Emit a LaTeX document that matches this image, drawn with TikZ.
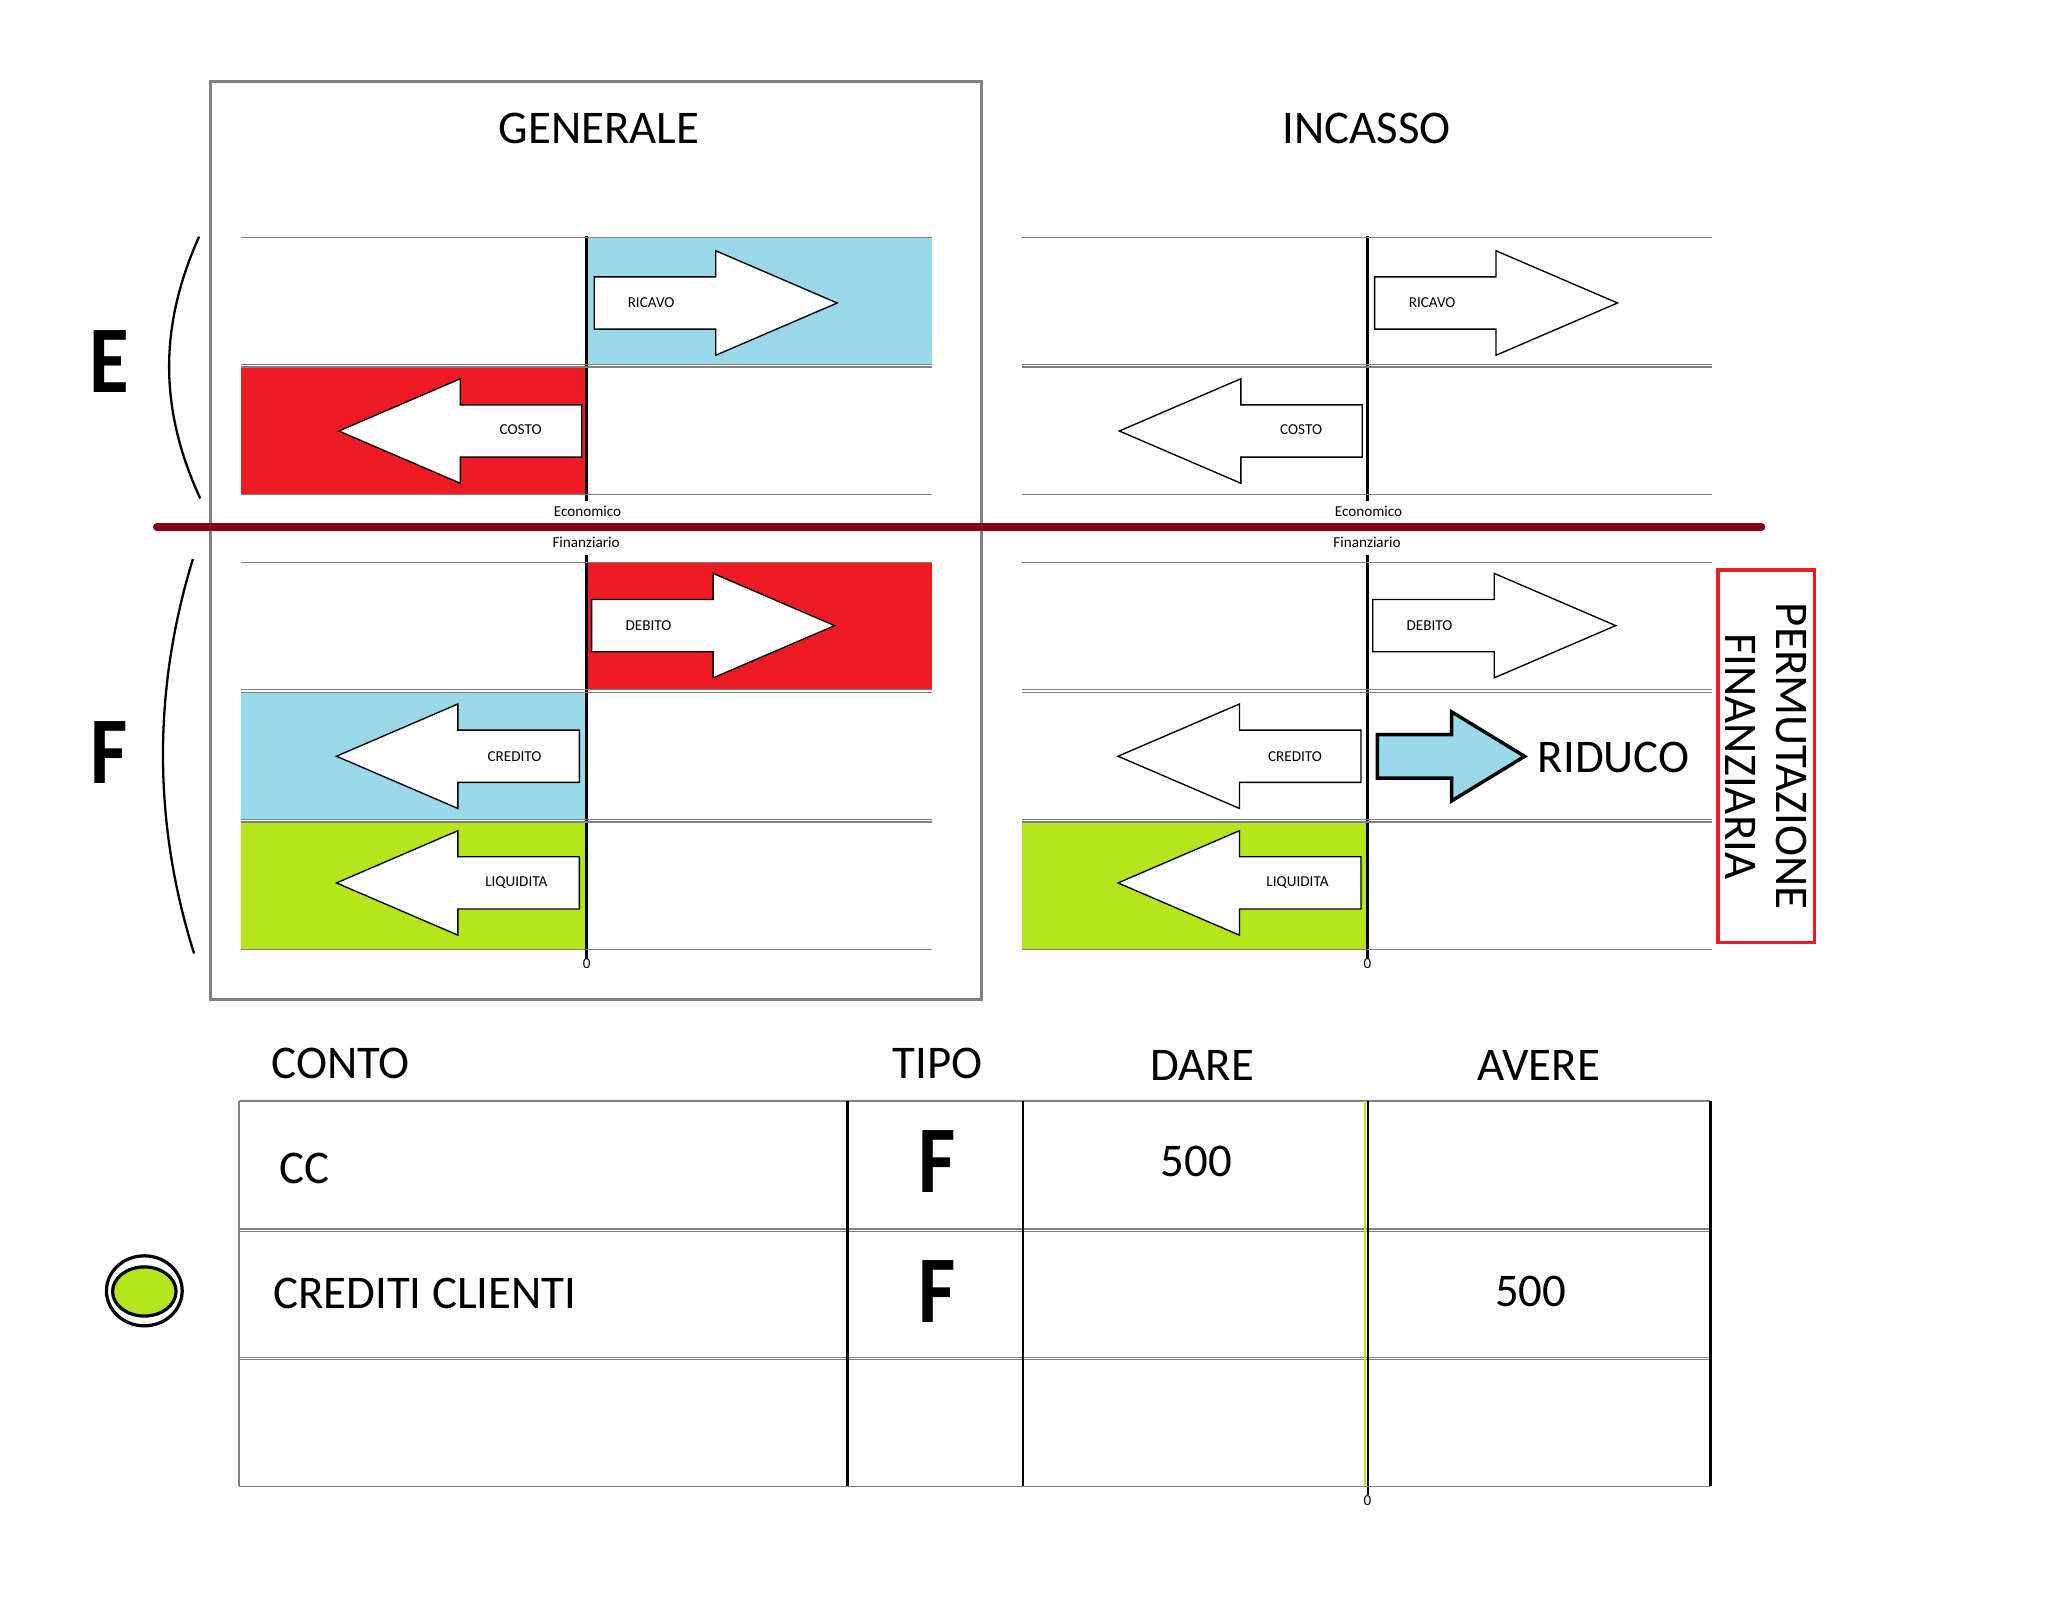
\documentclass[tikz,border=0pt]{standalone}
\usepackage{fontspec}
\setmainfont{Carlito}
\usepackage{tikz}
\definecolor{celeste}{RGB}{153,217,234}
\definecolor{rosso}{RGB}{237,28,36}
\definecolor{verde}{RGB}{181,230,29}
\definecolor{bordeaux}{RGB}{136,0,21}
\definecolor{griglia}{RGB}{128,128,128}
\tikzstyle{every node}=[inner sep=0pt]
\tikzstyle{riga}=[draw=griglia, line width=0.25pt]
\tikzstyle{asse}=[line width=0.55pt]
\tikzstyle{colonna}=[line width=0.6pt]
\tikzstyle{freccia}=[draw=black, line width=0.3pt, fill=white]
\tikzstyle{titolo}=[font=\fontsize{10.2}{11}\selectfont]
\tikzstyle{etichetta}=[font=\fontsize{3.3}{4}\selectfont]
\tikzstyle{lettera}=[font=\fontsize{20.8}{22}\selectfont\bfseries]
\newcommand{\bloccodx}[2]{\draw[freccia] (#1,#2-20) -- ++(93,0) -- ++(0,-20) -- ++(93,40) -- ++(-93,40) -- ++(0,-20) -- ++(-93,0) -- cycle;}
\newcommand{\bloccosx}[2]{\draw[freccia] (#1,#2-20) -- ++(-93,0) -- ++(0,-20) -- ++(-93,40) -- ++(93,40) -- ++(0,-20) -- ++(93,0) -- cycle;}
\newcommand{\stretta}[1]{\scalebox{0.85}[1]{#1}}

\begin{document}
\begin{tikzpicture}[x=0.01cm, y=-0.01cm]
            \useasboundingbox (0,0) rectangle (1568,1225);

            \draw[griglia, line width=0.65pt] (160.8,62.5) rectangle (751.6,765);
            \node[titolo] (titoloG) at (458.6,98) {GENERALE};
            \node[titolo] (titoloI) at (1046.4,98) {INCASSO};

            \fill[celeste] (449,181.7) rectangle (713.2,279);
            \fill[rosso] (184.7,281) rectangle (449,378.5);
            \fill[rosso] (449,430.6) rectangle (713.2,527.8);
            \fill[celeste] (184.7,529.9) rectangle (449,627.4);
            \fill[verde] (184.7,629.4) rectangle (449,726.9);
            \fill[verde] (782.5,629.4) rectangle (1047,726.9);

            \draw[asse] (449.2,180.7) -- (449.2,383.4);
            \draw[asse] (449.2,425) -- (449.2,734);
            \draw[asse] (1047,180.7) -- (1047,383.4);
            \draw[asse] (1047,425) -- (1047,734);

            \foreach \y in {181.7,279,281,378.5,430.6,527.8,529.9,627.4,629.4,726.9} {
                \draw[riga] (184.7,\y) -- (713.2,\y);
                \draw[riga] (782.5,\y) -- (1311,\y);
            }

            \bloccodx{455}{232}
            \bloccosx{445.4}{330}
            \bloccodx{453}{479}
            \bloccosx{443.6}{579}
            \bloccosx{443.6}{676}
            \bloccodx{1052.4}{232}
            \bloccosx{1043}{330}
            \bloccodx{1051}{479}
            \bloccosx{1042}{579}
            \bloccosx{1042}{676}

            \node[etichetta] (ricavoG) at (498.5,232) {RICAVO};
            \node[etichetta] (costoG) at (398.6,329) {COSTO};
            \node[etichetta] (debitoG) at (496.5,479) {DEBITO};
            \node[etichetta] (creditoG) at (393.9,579) {CREDITO};
            \node[etichetta] (liquiditaG) at (395.3,676) {LIQUIDITA};
            \node[etichetta] (ricavoI) at (1096.5,232) {RICAVO};
            \node[etichetta] (costoI) at (996.2,329) {COSTO};
            \node[etichetta] (debitoI) at (1094.5,479) {DEBITO};
            \node[etichetta] (creditoI) at (991.5,579) {CREDITO};
            \node[etichetta] (liquiditaI) at (993.4,676) {LIQUIDITA};

            \node[etichetta] (ecoG) at (449.8,391.8) {Economico};
            \node[etichetta] (finG) at (448.7,415.5) {Finanziario};
            \node[etichetta] (ecoI) at (1047.8,391.8) {Economico};
            \node[etichetta] (finI) at (1046.6,415.5) {Finanziario};
            \node[etichetta] (zeroG) at (449.2,737.6) {0};
            \node[etichetta] (zeroI) at (1047,737.6) {0};

            \draw[bordeaux, line width=1.6pt, line cap=round] (120,403.5) -- (1348.7,403.5);

            \node[lettera] (letteraE) at (83.9,276.7) {\stretta{E}};
            \node[lettera] (letteraF) at (83.2,575.8) {\stretta{F}};
            \draw[line width=0.5pt] (152.4,181.2) .. controls (121.7,250) and (121.7,313) .. (153.3,381.6);
            \draw[line width=0.5pt] (147.7,428) .. controls (117,528) and (117,630) .. (148.6,730);

            \draw[line width=0.75pt, fill=celeste] (1054.5,562.5) -- (1111.4,562.5) -- (1111.4,545) -- (1167.3,579.1)
                -- (1111.4,613.2) -- (1111.4,595.7) -- (1054.5,595.7) -- cycle;
            \node[titolo] (riduco) at (1235.5,580) {RIDUCO};
            \node[titolo, draw=rosso, line width=0.8pt, rotate=-90, align=center,
                minimum width=2.85cm, minimum height=0.74cm] (permutazione) at (1352.2,579.1)
                {PERMUTAZIONE\\FINANZIARIA};

            \node[titolo] (conto) at (260.8,814.6) {CONTO};
            \node[titolo] (tipo) at (718,814.6) {TIPO};
            \node[titolo] (dare) at (920.5,815.7) {DARE};
            \node[titolo] (avere) at (1178,815.7) {AVERE};

            \foreach \y in {843,941,942.6,1039.5,1041} {
                \draw[riga] (183,\y) -- (1309.5,\y);
            }
            \draw[riga] (183,843) -- (183,1137.8);
            \draw[colonna] (649,843) -- (649,1137.8);
            \draw[colonna] (783.3,843) -- (783.3,1137.8);
            \draw[verde, line width=0.5pt] (1045.2,843) -- (1045.2,1137.8);
            \draw[asse] (1047.4,843) -- (1047.4,1145);
            \draw[colonna] (1309.5,843) -- (1309.5,1137.8);
            \draw[riga] (183,1137.8) -- (1309.5,1137.8);
            \node[etichetta] (zeroT) at (1047,1148.6) {0};

            \node[titolo, anchor=west] (cc) at (213.5,894.7) {CC};
            \node[titolo, anchor=west] (crediti) at (208.5,990.5) {CREDITI CLIENTI};
            \node[lettera] (tipoA) at (717.5,889.5) {\stretta{F}};
            \node[lettera] (tipoB) at (717.5,988.6) {\stretta{F}};
            \node[titolo] (dareA) at (916,889) {500};
            \node[titolo] (avereB) at (1172,988.7) {500};

            \draw[line width=0.7pt] (110.5,988.3) ellipse [x radius=29, y radius=26.8];
            \draw[line width=0.7pt, fill=verde] (110.5,988.8) ellipse [x radius=24.3, y radius=18.8];
        \end{tikzpicture}
\end{document}
